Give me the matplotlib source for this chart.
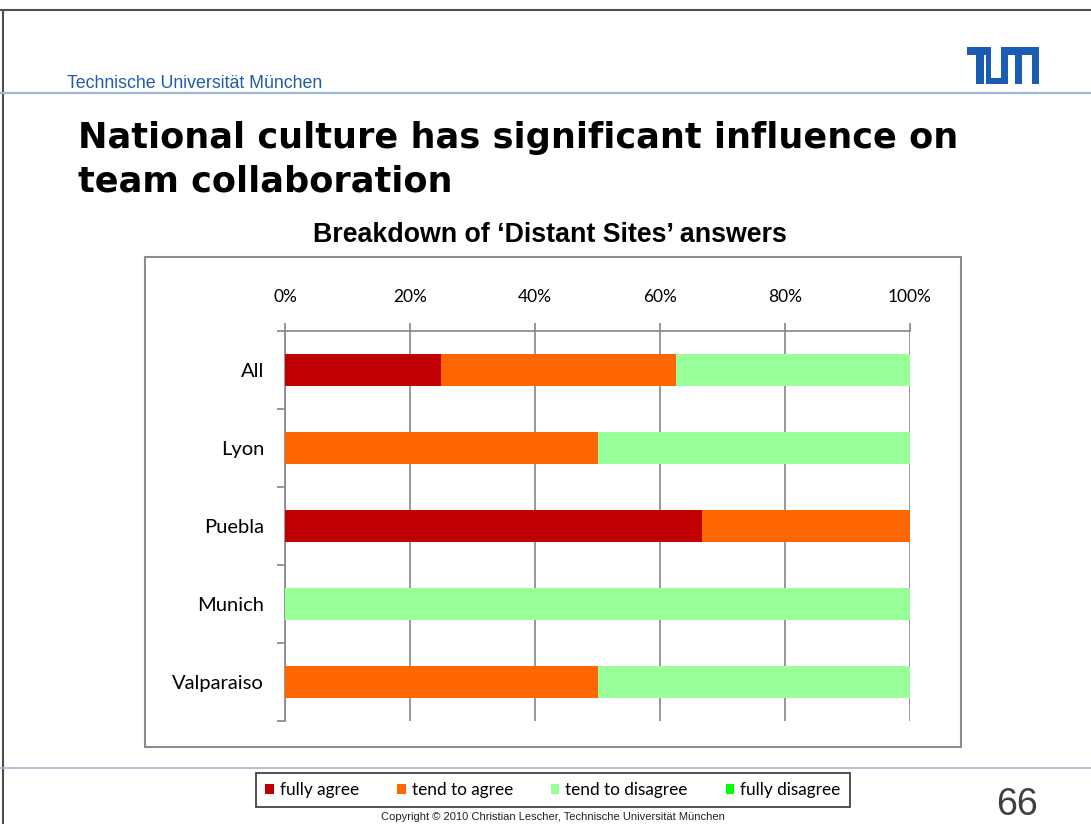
import matplotlib
matplotlib.use("Agg")
import matplotlib.pyplot as plt
from matplotlib.patches import Rectangle, Patch
from matplotlib.lines import Line2D
import numpy as np

# ---- data ----
categories = ["All", "Lyon", "Puebla", "Munich", "Valparaiso"]
series_names = ["fully agree", "tend to agree", "tend to disagree", "fully disagree"]
fully_agree = [25.0, 0.0, 66.7, 0.0, 0.0]
tend_to_agree = [37.5, 50.0, 33.3, 0.0, 50.0]
tend_to_disagree = [37.5, 50.0, 0.0, 100.0, 50.0]
fully_disagree = [0.0, 0.0, 0.0, 0.0, 0.0]
colors = ["#C00000", "#FF6600", "#99FF99", "#00FF00"]
x_ticks = [0, 20, 40, 60, 80, 100]
x_ticklabels = ["0%", "20%", "40%", "60%", "80%", "100%"]

W, H = 1091, 824
fig = plt.figure(figsize=(W / 100, H / 100), dpi=100)
fig.patch.set_facecolor("white")

def fx(px):
    return px / W

def fy(py):
    return 1 - py / H

# ---- slide decoration ----
fig.add_artist(Line2D([0, 1], [fy(10), fy(10)], color="#505050", lw=1.5, transform=fig.transFigure))
fig.add_artist(Line2D([fx(3), fx(3)], [fy(10), 0], color="#505050", lw=1.5, transform=fig.transFigure))
fig.add_artist(Line2D([0, 1], [fy(93), fy(93)], color="#9db8d6", lw=1.6, transform=fig.transFigure))
fig.add_artist(Line2D([0, 1], [fy(768), fy(768)], color="#9db8d6", lw=1.2, transform=fig.transFigure))

fig.text(fx(67), fy(88), "Technische Universität München", color="#1f5cae",
         fontsize=12.8, family="Liberation Sans", ha="left", va="baseline")

# TUM logo
logo_col = "#1a5cb4"
logo_rects = [
    (967, 47, 991, 54.5), (976, 47, 983.5, 84), (985.5, 47, 991, 84),
    (985.5, 78, 1007.5, 84), (1000.5, 47, 1007.5, 84), (1000.5, 47, 1039, 54.5),
    (1015, 47, 1022.5, 84), (1031.5, 47, 1039, 84),
]
for x0, y0, x1, y1 in logo_rects:
    fig.add_artist(Rectangle((fx(x0), fy(y1)), fx(x1) - fx(x0), fy(y0) - fy(y1),
                             transform=fig.transFigure, facecolor=logo_col, edgecolor="none"))

fig.text(fx(78), fy(148), "National culture has significant influence on",
         fontsize=25.3, fontweight="bold", family="DejaVu Sans", ha="left", va="baseline", color="black")
fig.text(fx(78), fy(191), "team collaboration",
         fontsize=25.3, fontweight="bold", family="DejaVu Sans", ha="left", va="baseline", color="black")

fig.text(fx(550), fy(235), "Breakdown of \u2018Distant Sites\u2019 answers", fontsize=19.3,
         fontweight="bold", family="Liberation Sans", ha="center", va="center")

# chart border
fig.add_artist(Rectangle((fx(145), fy(747)), fx(961) - fx(145), fy(257) - fy(747),
                         transform=fig.transFigure, facecolor="none", edgecolor="#8c8c8c", lw=1.5))

# ---- chart ----
ax = fig.add_axes([fx(285), fy(721), fx(910) - fx(285), fy(331) - fy(721)])
y = np.arange(len(categories))
left = np.zeros(len(categories))
for vals, col, name in zip([fully_agree, tend_to_agree, tend_to_disagree, fully_disagree], colors, series_names):
    ax.barh(y, vals, left=left, height=0.41, color=col, label=name, zorder=3)
    left = left + np.array(vals)

ax.set_xlim(0, 100)
ax.set_ylim(len(categories) - 0.5, -0.5)
ax.xaxis.tick_top()
ax.set_xticks(x_ticks)
ax.set_xticklabels(x_ticklabels, fontsize=12.5, family="Lato")
ax.tick_params(axis="x", direction="out", length=6, width=1.2, color="#868686", pad=13)
ax.grid(axis="x", color="#868686", lw=1.2, zorder=0)

ax.set_yticks(np.arange(len(categories) + 1) - 0.5)
ax.set_yticklabels([])
ax.set_yticks(y, minor=True)
ax.set_yticklabels(categories, minor=True, fontsize=14.5, family="Lato")
ax.tick_params(axis="y", which="major", direction="out", length=6, width=1.2, color="#868686")
ax.tick_params(axis="y", which="minor", length=0, pad=15)

for s in ["right", "bottom"]:
    ax.spines[s].set_visible(False)
for s in ["top", "left"]:
    ax.spines[s].set_color("#868686")
    ax.spines[s].set_linewidth(1.2)

# legend
handles = [Patch(facecolor=c, edgecolor="none") for c in colors]
leg = fig.legend(handles, series_names, loc="center", bbox_to_anchor=(fx(553), fy(790)),
                 ncol=4, frameon=True, fancybox=False, handlelength=0.5, handleheight=0.5,
                 handletextpad=0.35, columnspacing=2.2, borderpad=0.55,
                 prop={"family": "Lato", "size": 12.4})
leg.get_frame().set_edgecolor("black")
leg.get_frame().set_linewidth(1.2)

fig.text(fx(1017), fy(815), "66", fontsize=27, family="Liberation Sans", color="#404040",
         ha="center", va="baseline")
fig.text(fx(553), fy(822), "Copyright \u00a9 2010 Christian Lescher, Technische Universität München",
         fontsize=8, family="Liberation Sans", color="#222222", ha="center", va="bottom")

fig.savefig("out.png", dpi=100, facecolor="white")
